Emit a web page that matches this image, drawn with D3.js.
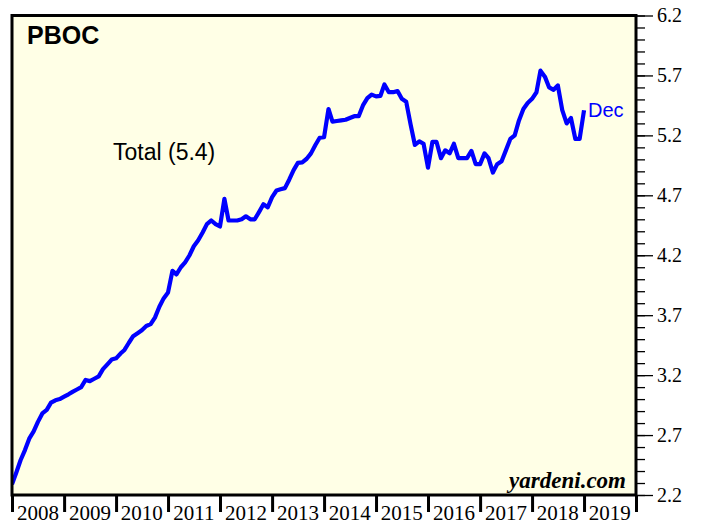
<!DOCTYPE html>
<html lang="en">
<head>
  <meta charset="UTF-8">
  <title>PBOC</title>
  <script src="https://d3js.org/d3.v7.min.js"></script>
  <style>
    body {
      margin: 0;
      background-color: #fff;
    }
    svg {
      display: block;
    }
    .sans {
      font-family: "Liberation Sans", Arial, sans-serif;
    }
    .serif {
      font-family: "Liberation Serif", "Times New Roman", serif;
    }
  </style>
</head>
<body>
  <svg id="chart" width="701" height="525"></svg>

  <script>
    // monthly values, Dec 2007 .. Dec 2018 (trillion US$)
    const startMonth = "2007-12";
    const values = [
      2.29, 2.39, 2.49, 2.575, 2.67, 2.73, 2.81, 2.88, 2.91, 2.97, 2.99, 3.00, 3.02,
      3.04, 3.06, 3.08, 3.10, 3.16, 3.15, 3.17, 3.19, 3.25, 3.29, 3.33, 3.34,
      3.38, 3.41, 3.47, 3.525, 3.55, 3.575, 3.61, 3.625, 3.68, 3.77, 3.84, 3.89,
      4.07, 4.04, 4.10, 4.14, 4.20, 4.275, 4.325, 4.39, 4.46, 4.49, 4.46, 4.44,
      4.67, 4.49, 4.49, 4.49, 4.50, 4.525, 4.50, 4.50, 4.56, 4.625, 4.60, 4.685,
      4.74, 4.75, 4.76, 4.83, 4.91, 4.97, 4.975, 5.005, 5.05, 5.12, 5.18, 5.185,
      5.42, 5.315, 5.32, 5.325, 5.33, 5.345, 5.36, 5.36, 5.45, 5.51, 5.54, 5.525,
      5.53, 5.625, 5.56, 5.56, 5.57, 5.505, 5.48, 5.29, 5.12, 5.15, 5.13, 4.93,
      5.145, 5.145, 5.01, 5.075, 5.05, 5.13, 5.01, 5.01, 5.01, 5.07, 4.96, 4.96,
      5.05, 5.01, 4.89, 4.96, 4.985, 5.075, 5.17, 5.20, 5.325, 5.42, 5.47, 5.505,
      5.56, 5.74, 5.69, 5.60, 5.58, 5.617, 5.41, 5.30, 5.345, 5.17, 5.17, 5.41
    ];
    const yearLabels = ["2008", "2009", "2010", "2011", "2012", "2013",
                        "2014", "2015", "2016", "2017", "2018", "2019"];
    const yTicks = [2.2, 2.7, 3.2, 3.7, 4.2, 4.7, 5.2, 5.7, 6.2];
    const yMinorTicks = d3.range(22, 63).map(d => d / 10);

    const svg = d3.select("#chart");
    const plotLeft = 12, plotRight = 636, plotTop = 15.5, plotBottom = 495;

    const parseMonth = d3.utcParse("%Y-%m");
    const first = parseMonth(startMonth);
    // each monthly value is plotted at the end of its month
    const data = values.map((v, i) => ({ date: d3.utcMonth.offset(first, i + 1), value: v }));

    const x = d3.scaleUtc()
      .domain([new Date(Date.UTC(2008, 0, 1)), new Date(Date.UTC(2020, 0, 1))])
      .range([plotLeft, plotRight]);
    const y = d3.scaleLinear().domain([2.2, 6.2]).range([plotBottom, plotTop]);

    // plot background
    svg.append("rect")
      .attr("x", plotLeft).attr("y", plotTop)
      .attr("width", plotRight - plotLeft).attr("height", plotBottom - plotTop)
      .attr("fill", "#ffffe6");

    svg.append("clipPath").attr("id", "clip")
      .append("rect")
      .attr("x", plotLeft).attr("y", plotTop)
      .attr("width", plotRight - plotLeft).attr("height", plotBottom - plotTop);

    // series line
    const line = d3.line()
      .x(d => x(d.date))
      .y(d => y(d.value));

    svg.append("path")
      .datum(data)
      .attr("clip-path", "url(#clip)")
      .attr("fill", "none")
      .attr("stroke", "#0000ff")
      .attr("stroke-width", 4.2)
      .attr("stroke-linejoin", "round")
      .attr("d", line);

    // right axis: minor then major ticks
    const minorAxis = svg.append("g")
      .attr("transform", `translate(${plotRight},0)`)
      .call(d3.axisRight(y).tickValues(yMinorTicks).tickSize(9).tickFormat(""));
    minorAxis.select(".domain").remove();
    minorAxis.selectAll("line").attr("stroke", "#000").attr("stroke-width", 1.3);

    const yAxis = svg.append("g")
      .attr("transform", `translate(${plotRight},0)`)
      .call(d3.axisRight(y).tickValues(yTicks).tickSize(17).tickPadding(4).tickFormat(d3.format(".1f")));
    yAxis.select(".domain").remove();
    yAxis.selectAll("line").attr("stroke", "#000").attr("stroke-width", 1.3);
    yAxis.selectAll("text")
      .attr("class", "serif")
      .attr("font-size", 20)
      .attr("fill", "#000");

    // bottom axis: year ticks, labels centred in each year
    const years = d3.utcYear.range(x.domain()[0], d3.utcDay.offset(x.domain()[1], 1));
    const xAxis = svg.append("g")
      .attr("transform", `translate(0,${plotBottom})`)
      .call(d3.axisBottom(x).tickValues(years).tickSize(17).tickFormat(""));
    xAxis.select(".domain").remove();
    xAxis.selectAll("line").attr("stroke", "#000").attr("stroke-width", 3);

    svg.append("g").selectAll("text")
      .data(yearLabels)
      .join("text")
      .attr("class", "serif")
      .attr("x", d => x(d3.utcMonth.offset(new Date(Date.UTC(+d, 0, 1)), 6)))
      .attr("y", 520)
      .attr("text-anchor", "middle")
      .attr("font-size", 21)
      .text(d => d);

    // frame
    svg.append("rect")
      .attr("x", plotLeft).attr("y", plotTop)
      .attr("width", plotRight - plotLeft).attr("height", plotBottom - plotTop)
      .attr("fill", "none")
      .attr("stroke", "#000")
      .attr("stroke-width", 3);

    // labels
    svg.append("text")
      .attr("class", "sans")
      .attr("x", 27).attr("y", 44)
      .attr("font-size", 25)
      .attr("font-weight", "bold")
      .text("PBOC");

    svg.append("text")
      .attr("class", "sans")
      .attr("x", 113).attr("y", 160)
      .attr("font-size", 23)
      .text("Total (5.4)");

    const last = data[data.length - 1];
    svg.append("text")
      .attr("class", "sans")
      .attr("x", x(last.date) + 4)
      .attr("y", 117)
      .attr("font-size", 20)
      .attr("fill", "#0000ff")
      .text("Dec");

    svg.append("text")
      .attr("class", "serif")
      .attr("x", 626).attr("y", 488)
      .attr("text-anchor", "end")
      .attr("font-size", 23)
      .attr("font-weight", "bold")
      .attr("font-style", "italic")
      .text("yardeni.com");
  </script>
</body>
</html>
